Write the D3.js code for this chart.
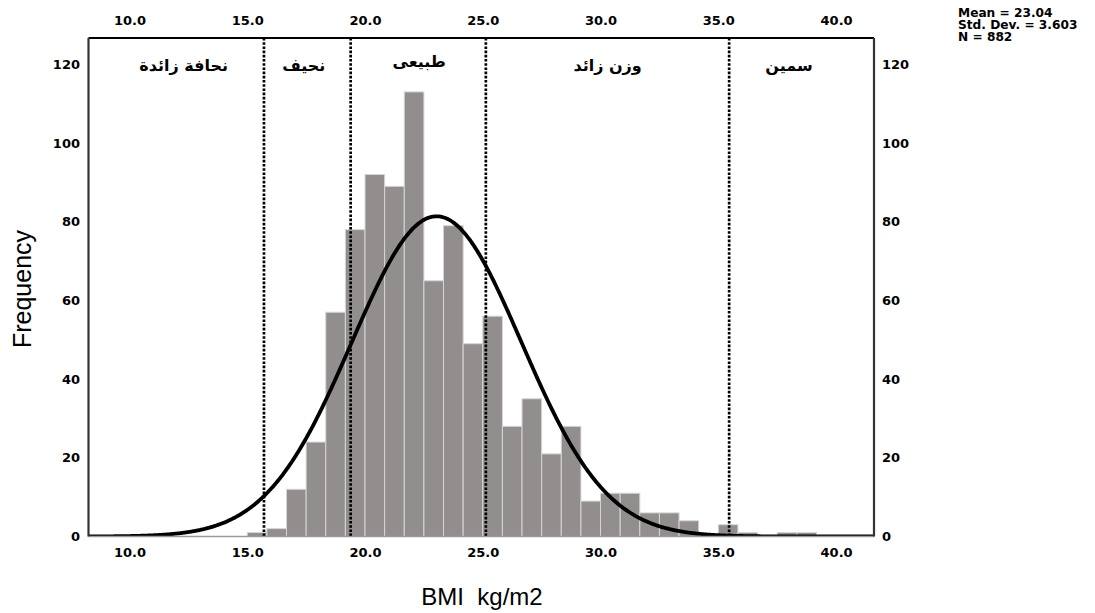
<!DOCTYPE html>
<html>
<head>
<meta charset="utf-8">
<script src="https://cdn.jsdelivr.net/npm/d3@7"></script>
<style>
  body { margin: 0; background: #fff; }
</style>
</head>
<body>
<svg id="chart" width="1095" height="613"></svg>
<script>
// histogram counts, bins of width 5/6 starting at 15.0
const counts = [1, 2, 12, 24, 57, 78, 92, 89, 113, 65, 79, 49, 56, 28, 35, 21, 28, 9, 11, 11, 6, 6, 4, 0, 3, 1, 0, 1, 1];
const binStart = 15.0;
const binWidth = 5 / 6;

const xTicks = [10, 15, 20, 25, 30, 35, 40];
const yTicks = [0, 20, 40, 60, 80, 100, 120];

// dotted category boundaries and the arabic labels between them
const cutoffs = [15.71, 19.39, 25.13, 35.46];
const categories = ["نحافة زائدة", "نحيف", "طبيعى", "وزن زائد", "سمين"];
const categoryX = [12.3, 17.4, 22.3, 30.3, 38.0];

const mean = 23.04;
const stdDev = 3.603;
const nCases = 882;

const sans = "'Liberation Sans', Arial, sans-serif";
const bold = "'DejaVu Sans', sans-serif";

const svg = d3.select("#chart");

const plotL = 88.5, plotR = 874, plotT = 38, plotB = 536.5;

const x = d3.scaleLinear().domain([8.26, 41.61]).range([plotL, plotR]);
const y = d3.scaleLinear().domain([0, 126.7]).range([plotB, plotT]);

const bins = counts.map((c, i) => ({
  x0: binStart + i * binWidth,
  x1: binStart + (i + 1) * binWidth,
  count: c
}));

svg.append("defs").append("clipPath").attr("id", "plot")
  .append("rect")
  .attr("x", plotL).attr("y", plotT)
  .attr("width", plotR - plotL).attr("height", plotB - plotT);

// bars
svg.append("g")
  .selectAll("rect")
  .data(bins.filter(d => d.count > 0))
  .join("rect")
  .attr("x", d => x(d.x0))
  .attr("y", d => y(d.count))
  .attr("width", d => x(d.x1) - x(d.x0))
  .attr("height", d => y(0) - y(d.count))
  .attr("fill", "#918e8d")
  .attr("stroke", "#d6d6d6")
  .attr("stroke-width", 1);

// normal curve from the stats shown in the corner
const pts = d3.range(8.26, 41.62, 0.05).map(v => {
  const z = (v - mean) / stdDev;
  return [v, nCases * binWidth * Math.exp(-0.5 * z * z) / (stdDev * Math.sqrt(2 * Math.PI))];
});

svg.append("path")
  .datum(pts)
  .attr("clip-path", "url(#plot)")
  .attr("fill", "none")
  .attr("stroke", "#000")
  .attr("stroke-width", 3.8)
  .attr("d", d3.line().x(d => x(d[0])).y(d => y(d[1])).curve(d3.curveBasis));

// dotted boundaries
svg.append("g")
  .selectAll("line")
  .data(cutoffs)
  .join("line")
  .attr("x1", d => x(d)).attr("x2", d => x(d))
  .attr("y1", plotT).attr("y2", plotB)
  .attr("stroke", "#000")
  .attr("stroke-width", 2.7)
  .attr("stroke-dasharray", "2.6,1.6");

// frame
svg.append("line").attr("x1", plotL).attr("x2", plotR).attr("y1", plotT).attr("y2", plotT)
  .attr("stroke", "#000").attr("stroke-width", 2.2);
svg.append("line").attr("x1", plotL).attr("x2", plotR).attr("y1", plotB).attr("y2", plotB)
  .attr("stroke", "#9a9a9a").attr("stroke-width", 1.5);
svg.append("line").attr("x1", plotL).attr("x2", plotL).attr("y1", plotT).attr("y2", plotB)
  .attr("stroke", "#333").attr("stroke-width", 2.2);
svg.append("line").attr("x1", plotR).attr("x2", plotR).attr("y1", plotT).attr("y2", plotB)
  .attr("stroke", "#333").attr("stroke-width", 2.2);

// axes (labels only, no ticks)
function styleAxis(g) {
  g.select(".domain").remove();
  g.selectAll("line").remove();
  g.selectAll("text")
    .style("font-family", bold)
    .style("font-weight", "bold")
    .style("font-size", "13px")
    .attr("fill", "#000");
}

const fmt = d3.format(".1f");

svg.append("g").attr("transform", `translate(0,${plotT})`)
  .call(d3.axisTop(x).tickValues(xTicks).tickFormat(fmt).tickSize(0).tickPadding(13))
  .call(styleAxis);

svg.append("g").attr("transform", `translate(0,${plotB})`)
  .call(d3.axisBottom(x).tickValues(xTicks).tickFormat(fmt).tickSize(0).tickPadding(11))
  .call(styleAxis);

svg.append("g").attr("transform", `translate(${plotL},0)`)
  .call(d3.axisLeft(y).tickValues(yTicks).tickSize(0).tickPadding(8.5))
  .call(styleAxis);

svg.append("g").attr("transform", `translate(${plotR},0)`)
  .call(d3.axisRight(y).tickValues(yTicks).tickSize(0).tickPadding(8))
  .call(styleAxis);

// arabic category labels
svg.append("g")
  .selectAll("text")
  .data(categories)
  .join("text")
  .attr("x", (d, i) => x(categoryX[i]))
  .attr("y", (d, i) => i === 2 ? 67 : 71)
  .attr("text-anchor", "middle")
  .attr("direction", "rtl")
  .style("font-family", bold)
  .style("font-weight", "bold")
  .style("font-size", "16px")
  .text(d => d);

// axis titles
svg.append("text")
  .attr("transform", "translate(31,289) rotate(-90)")
  .attr("text-anchor", "middle")
  .style("font-family", sans)
  .style("font-size", "25px")
  .text("Frequency");

svg.append("text")
  .attr("x", 482).attr("y", 605)
  .attr("text-anchor", "middle")
  .style("font-family", sans)
  .style("font-size", "24px")
  .style("white-space", "pre")
  .text("BMI  kg/m2");

// stats block
const statLines = [
  "Mean = " + mean.toFixed(2),
  "Std. Dev. = " + stdDev.toFixed(3),
  "N = " + nCases
];
svg.append("g")
  .selectAll("text")
  .data(statLines)
  .join("text")
  .attr("x", 958)
  .attr("y", (d, i) => 17 + i * 12)
  .style("font-family", bold)
  .style("font-weight", "bold")
  .style("font-size", "12.2px")
  .text(d => d);
</script>
</body>
</html>
